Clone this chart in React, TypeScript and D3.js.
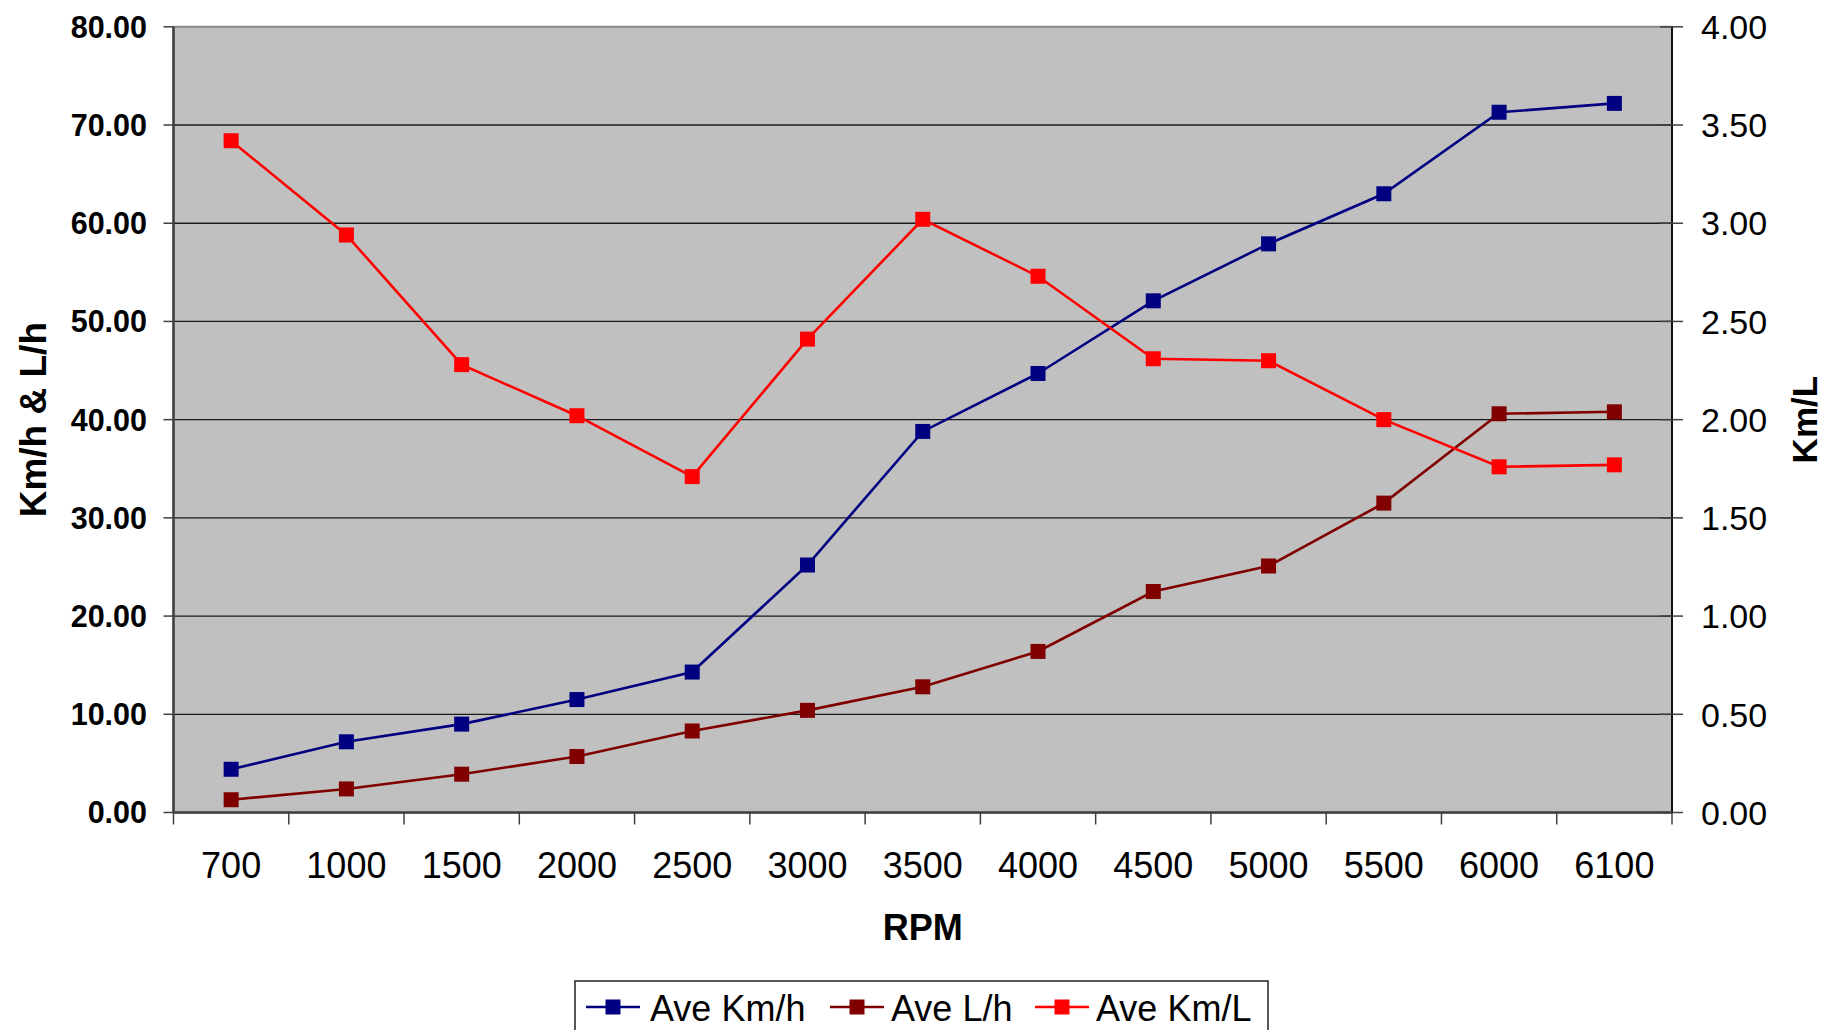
import React from 'react';
import * as d3 from 'd3';

const rpm = ['700', '1000', '1500', '2000', '2500', '3000', '3500', '4000', '4500', '5000', '5500', '6000', '6100'];
const aveKmh = [4.4, 7.2, 9.0, 11.5, 14.3, 25.2, 38.8, 44.7, 52.1, 57.9, 63.0, 71.3, 72.2];
const aveLh = [1.3, 2.4, 3.9, 5.7, 8.3, 10.4, 12.8, 16.4, 22.5, 25.1, 31.5, 40.6, 40.8];
const aveKmL = [3.42, 2.94, 2.28, 2.02, 1.71, 2.41, 3.02, 2.73, 2.31, 2.30, 2.00, 1.76, 1.77];
const leftTicks = [0, 10, 20, 30, 40, 50, 60, 70, 80];
const rightTicks = [0, 0.5, 1, 1.5, 2, 2.5, 3, 3.5, 4];

const FONT = '"Liberation Sans", Arial, sans-serif';

const series = [
  { name: 'Ave Km/h', values: aveKmh, color: '#000080', axis: 'left' },
  { name: 'Ave L/h', values: aveLh, color: '#800000', axis: 'left' },
  { name: 'Ave Km/L', values: aveKmL, color: '#FF0000', axis: 'right' },
];

const App = () => {
  const W = 1827;
  const H = 1030;
  const plot = { left: 173.5, right: 1672, top: 26.8, bottom: 812.5 };

  const x = d3.scaleBand().domain(rpm).range([plot.left, plot.right]).padding(0);
  const yLeft = d3.scaleLinear().domain([0, 80]).range([plot.bottom, plot.top]);
  const yRight = d3.scaleLinear().domain([0, 4]).range([plot.bottom, plot.top]);
  const cx = (d: string) => (x(d) as number) + x.bandwidth() / 2;
  const fmt = d3.format('.2f');
  const ms = 15;
  const midY = (plot.top + plot.bottom) / 2;

  // legend layout: line start / text start for each entry
  const legendPos = [
    { line: 586, text: 650 },
    { line: 830, text: 891 },
    { line: 1035, text: 1096 },
  ];

  return (
    <svg width={W} height={H} style={{ position: 'absolute', left: 0, top: 0, background: '#fff' }}>
      <rect x={plot.left} y={plot.top} width={plot.right - plot.left} height={plot.bottom - plot.top}
        fill="#C0C0C0" stroke="#8a8a8a" strokeWidth={2} />

      {/* gridlines */}
      {leftTicks.slice(1, -1).map(t => (
        <line key={'g' + t} x1={plot.left} x2={plot.right} y1={yLeft(t)} y2={yLeft(t)} stroke="#1a1a1a" strokeWidth={1.3} />
      ))}

      {/* axes */}
      <line x1={plot.left} x2={plot.left} y1={plot.top} y2={plot.bottom} stroke="#404040" strokeWidth={2.5} />
      <line x1={plot.right} x2={plot.right} y1={plot.top} y2={plot.bottom} stroke="#111" strokeWidth={2} />
      <line x1={plot.left} x2={plot.right} y1={plot.bottom} y2={plot.bottom} stroke="#404040" strokeWidth={2.5} />

      {/* left ticks and labels */}
      {leftTicks.map(t => (
        <g key={'l' + t}>
          <line x1={plot.left - 10} x2={plot.left} y1={yLeft(t)} y2={yLeft(t)} stroke="#404040" strokeWidth={1.5} />
          <text x={147} y={yLeft(t)} dy="0.36em" textAnchor="end" fontFamily={FONT} fontWeight="bold" fontSize={30.5}>{fmt(t)}</text>
        </g>
      ))}

      {/* right ticks and labels */}
      {rightTicks.map(t => (
        <g key={'r' + t}>
          <line x1={plot.right - 12} x2={plot.right + 11} y1={yRight(t)} y2={yRight(t)} stroke="#404040" strokeWidth={1.5} />
          <text x={1701} y={yRight(t)} dy="0.36em" textAnchor="start" fontFamily={FONT} fontSize={34}>{fmt(t)}</text>
        </g>
      ))}

      {/* x ticks and labels */}
      {rpm.map(d => (
        <line key={'xt' + d} x1={x(d) as number} x2={x(d) as number} y1={plot.bottom} y2={plot.bottom + 12} stroke="#404040" strokeWidth={1.5} />
      ))}
      <line x1={plot.right} x2={plot.right} y1={plot.bottom} y2={plot.bottom + 12} stroke="#404040" strokeWidth={1.5} />
      {rpm.map(d => (
        <text key={'xl' + d} x={cx(d)} y={878} textAnchor="middle" fontFamily={FONT} fontSize={36}>{d}</text>
      ))}

      {/* axis titles */}
      <text x={(plot.left + plot.right) / 2} y={940} textAnchor="middle" fontFamily={FONT} fontWeight="bold" fontSize={36}>RPM</text>
      <text transform={`translate(46,${midY}) rotate(-90)`} textAnchor="middle"
        fontFamily={FONT} fontWeight="bold" fontSize={37}>Km/h &amp; L/h</text>
      <text transform={`translate(1817,${midY}) rotate(-90)`} textAnchor="middle"
        fontFamily={FONT} fontWeight="bold" fontSize={35}>Km/L</text>

      {/* series */}
      {series.map(s => {
        const y = s.axis === 'left' ? yLeft : yRight;
        const line = d3.line<number>().x((_, i) => cx(rpm[i])).y(v => y(v));
        return (
          <g key={s.name}>
            <path d={line(s.values) || ''} fill="none" stroke={s.color} strokeWidth={2.6} />
            {s.values.map((v, i) => (
              <rect key={i} x={cx(rpm[i]) - ms / 2} y={y(v) - ms / 2} width={ms} height={ms} fill={s.color} />
            ))}
          </g>
        );
      })}

      {/* legend */}
      <rect x={575} y={981} width={693} height={80} fill="#fff" stroke="#222" strokeWidth={1.5} />
      {series.map((s, i) => (
        <g key={'lg' + s.name}>
          <line x1={legendPos[i].line} x2={legendPos[i].line + 54} y1={1007} y2={1007} stroke={s.color} strokeWidth={2.6} />
          <rect x={legendPos[i].line + 27 - ms / 2} y={1007 - ms / 2} width={ms} height={ms} fill={s.color} />
          <text x={legendPos[i].text} y={1021} fontFamily={FONT} fontSize={36}>{s.name}</text>
        </g>
      ))}
    </svg>
  );
};

export default App;
